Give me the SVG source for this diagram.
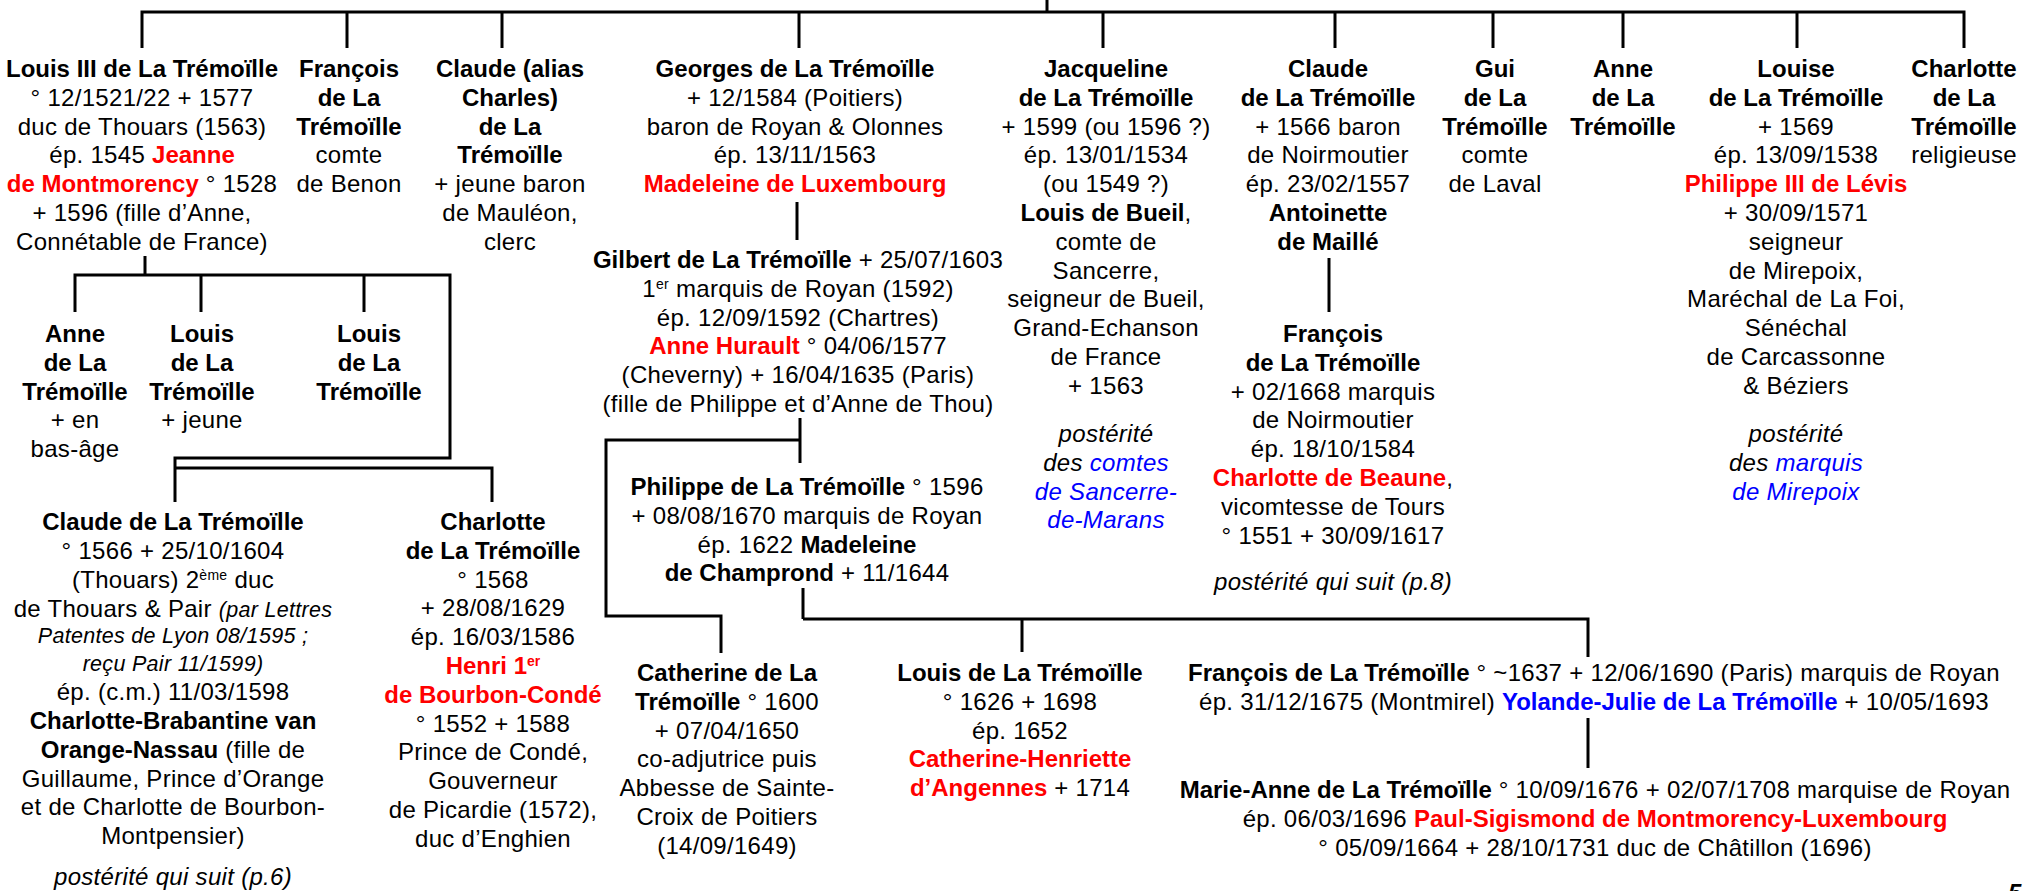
<svg xmlns="http://www.w3.org/2000/svg" width="2024" height="891" viewBox="0 0 2024 891">
<style>
text{font-family:"Liberation Sans",Arial,sans-serif;font-size:24px;text-anchor:middle;fill:#000;letter-spacing:0.3px}
.b{font-weight:bold;letter-spacing:0}
.r{fill:#f00}
.u{fill:#00f}
.i{font-style:italic}
.s{font-size:21.5px}
.sup{font-size:14px;baseline-shift:super}
.c{fill:none;stroke:#000;stroke-width:3}
</style>
<rect width="2024" height="891" fill="#fff"/>
<g id="connectors" class="c">
<path d="M1047 0V12M142 48V12H1964V48M347 12V48M502 12V48M799 12V48M1103 12V48M1335 12V48M1493 12V48M1623 12V48M1797 12V48"/>
<path d="M797 202V240"/>
<path d="M1329 258V312"/>
<path d="M145 256V275M75 312V275H450V458H175V502M201 275V312M364 275V312M175 468H492V502"/>
<path d="M800 418V463M800 440H606V616H721V653"/>
<path d="M803 588V619M803 619H1588V657M1022 619V652"/>
<path d="M1588 718V768"/>
</g>
<g id="louis3">
<text x="142" y="77" class="b">Louis III de La Trémoïlle</text>
<text x="142" y="105.8">° 12/1521/22 + 1577</text>
<text x="142" y="134.6">duc de Thouars (1563)</text>
<text x="142" y="163.4">ép. 1545 <tspan class="b r">Jeanne</tspan></text>
<text x="142" y="192.2"><tspan class="b r">de Montmorency</tspan> ° 1528</text>
<text x="142" y="221">+ 1596 (fille d’Anne,</text>
<text x="142" y="249.8">Connétable de France)</text>
</g>
<g id="francois-benon">
<text x="349" y="77" class="b">François</text>
<text x="349" y="105.8" class="b">de La</text>
<text x="349" y="134.6" class="b">Trémoïlle</text>
<text x="349" y="163.4">comte</text>
<text x="349" y="192.2">de Benon</text>
</g>
<g id="claude-charles">
<text x="510" y="77" class="b">Claude (alias</text>
<text x="510" y="105.8" class="b">Charles)</text>
<text x="510" y="134.6" class="b">de La</text>
<text x="510" y="163.4" class="b">Trémoïlle</text>
<text x="510" y="192.2">+ jeune baron</text>
<text x="510" y="221">de Mauléon,</text>
<text x="510" y="249.8">clerc</text>
</g>
<g id="georges">
<text x="795" y="77" class="b">Georges de La Trémoïlle</text>
<text x="795" y="105.8">+ 12/1584 (Poitiers)</text>
<text x="795" y="134.6">baron de Royan &amp; Olonnes</text>
<text x="795" y="163.4">ép. 13/11/1563</text>
<text x="795" y="192.2" class="b r">Madeleine de Luxembourg</text>
</g>
<g id="gilbert">
<text x="798" y="268"><tspan class="b">Gilbert de La Trémoïlle</tspan> + 25/07/1603</text>
<text x="798" y="296.8">1<tspan class="sup">er</tspan> marquis de Royan (1592)</text>
<text x="798" y="325.6">ép. 12/09/1592 (Chartres)</text>
<text x="798" y="354.4"><tspan class="b r">Anne Hurault</tspan> ° 04/06/1577</text>
<text x="798" y="383.2">(Cheverny) + 16/04/1635 (Paris)</text>
<text x="798" y="412">(fille de Philippe et d’Anne de Thou)</text>
</g>
<g id="philippe">
<text x="807" y="495"><tspan class="b">Philippe de La Trémoïlle</tspan> ° 1596</text>
<text x="807" y="523.8">+ 08/08/1670 marquis de Royan</text>
<text x="807" y="552.6">ép. 1622 <tspan class="b">Madeleine</tspan></text>
<text x="807" y="581.4"><tspan class="b">de Champrond</tspan> + 11/1644</text>
</g>
<g id="catherine">
<text x="727" y="681" class="b">Catherine de La</text>
<text x="727" y="709.8"><tspan class="b">Trémoïlle</tspan> ° 1600</text>
<text x="727" y="738.6">+ 07/04/1650</text>
<text x="727" y="767.4">co-adjutrice puis</text>
<text x="727" y="796.2">Abbesse de Sainte-</text>
<text x="727" y="825">Croix de Poitiers</text>
<text x="727" y="853.8">(14/09/1649)</text>
</g>
<g id="louis-1626">
<text x="1020" y="681" class="b">Louis de La Trémoïlle</text>
<text x="1020" y="709.8">° 1626 + 1698</text>
<text x="1020" y="738.6">ép. 1652</text>
<text x="1020" y="767.4" class="b r">Catherine-Henriette</text>
<text x="1020" y="796.2"><tspan class="b r">d’Angennes</tspan> + 1714</text>
</g>
<g id="francois-1637">
<text x="1594" y="681"><tspan class="b">François de La Trémoïlle</tspan> ° ~1637 + 12/06/1690 (Paris) marquis de Royan</text>
<text x="1594" y="710">ép. 31/12/1675 (Montmirel) <tspan class="b u">Yolande-Julie de La Trémoïlle</tspan> + 10/05/1693</text>
</g>
<g id="marie-anne">
<text x="1595" y="798"><tspan class="b">Marie-Anne de La Trémoïlle</tspan> ° 10/09/1676 + 02/07/1708 marquise de Royan</text>
<text x="1595" y="827">ép. 06/03/1696 <tspan class="b r">Paul-Sigismond de Montmorency-Luxembourg</tspan></text>
<text x="1595" y="856">° 05/09/1664 + 28/10/1731 duc de Châtillon (1696)</text>
</g>
<g id="jacqueline">
<text x="1106" y="77" class="b">Jacqueline</text>
<text x="1106" y="105.8" class="b">de La Trémoïlle</text>
<text x="1106" y="134.6">+ 1599 (ou 1596 ?)</text>
<text x="1106" y="163.4">ép. 13/01/1534</text>
<text x="1106" y="192.2">(ou 1549 ?)</text>
<text x="1106" y="221"><tspan class="b">Louis de Bueil</tspan>,</text>
<text x="1106" y="249.8">comte de</text>
<text x="1106" y="278.6">Sancerre,</text>
<text x="1106" y="307.4">seigneur de Bueil,</text>
<text x="1106" y="336.2">Grand-Echanson</text>
<text x="1106" y="365">de France</text>
<text x="1106" y="393.8">+ 1563</text>
<text x="1106" y="442" class="i">postérité</text>
<text x="1106" y="470.8" class="i">des <tspan class="u">comtes</tspan></text>
<text x="1106" y="499.6" class="i u">de Sancerre-</text>
<text x="1106" y="528.4" class="i u">de-Marans</text>
</g>
<g id="claude-noirmoutier">
<text x="1328" y="77" class="b">Claude</text>
<text x="1328" y="105.8" class="b">de La Trémoïlle</text>
<text x="1328" y="134.6">+ 1566 baron</text>
<text x="1328" y="163.4">de Noirmoutier</text>
<text x="1328" y="192.2">ép. 23/02/1557</text>
<text x="1328" y="221" class="b">Antoinette</text>
<text x="1328" y="249.8" class="b">de Maillé</text>
</g>
<g id="francois-noirmoutier">
<text x="1333" y="342" class="b">François</text>
<text x="1333" y="370.8" class="b">de La Trémoïlle</text>
<text x="1333" y="399.6">+ 02/1668 marquis</text>
<text x="1333" y="428.4">de Noirmoutier</text>
<text x="1333" y="457.2">ép. 18/10/1584</text>
<text x="1333" y="486"><tspan class="b r">Charlotte de Beaune</tspan>,</text>
<text x="1333" y="514.8">vicomtesse de Tours</text>
<text x="1333" y="543.6">° 1551 + 30/09/1617</text>
<text x="1333" y="590" class="i">postérité qui suit (p.8)</text>
</g>
<g id="gui">
<text x="1495" y="77" class="b">Gui</text>
<text x="1495" y="105.8" class="b">de La</text>
<text x="1495" y="134.6" class="b">Trémoïlle</text>
<text x="1495" y="163.4">comte</text>
<text x="1495" y="192.2">de Laval</text>
</g>
<g id="anne-1">
<text x="1623" y="77" class="b">Anne</text>
<text x="1623" y="105.8" class="b">de La</text>
<text x="1623" y="134.6" class="b">Trémoïlle</text>
</g>
<g id="louise">
<text x="1796" y="77" class="b">Louise</text>
<text x="1796" y="105.8" class="b">de La Trémoïlle</text>
<text x="1796" y="134.6">+ 1569</text>
<text x="1796" y="163.4">ép. 13/09/1538</text>
<text x="1796" y="192.2" class="b r">Philippe III de Lévis</text>
<text x="1796" y="221">+ 30/09/1571</text>
<text x="1796" y="249.8">seigneur</text>
<text x="1796" y="278.6">de Mirepoix,</text>
<text x="1796" y="307.4">Maréchal de La Foi,</text>
<text x="1796" y="336.2">Sénéchal</text>
<text x="1796" y="365">de Carcassonne</text>
<text x="1796" y="393.8">&amp; Béziers</text>
<text x="1796" y="442" class="i">postérité</text>
<text x="1796" y="470.8" class="i">des <tspan class="u">marquis</tspan></text>
<text x="1796" y="499.6" class="i u">de Mirepoix</text>
</g>
<g id="charlotte-religieuse">
<text x="1964" y="77" class="b">Charlotte</text>
<text x="1964" y="105.8" class="b">de La</text>
<text x="1964" y="134.6" class="b">Trémoïlle</text>
<text x="1964" y="163.4">religieuse</text>
</g>
<g id="anne-2">
<text x="75" y="342" class="b">Anne</text>
<text x="75" y="370.8" class="b">de La</text>
<text x="75" y="399.6" class="b">Trémoïlle</text>
<text x="75" y="428.4">+ en</text>
<text x="75" y="457.2">bas-âge</text>
</g>
<g id="louis-2a">
<text x="202" y="342" class="b">Louis</text>
<text x="202" y="370.8" class="b">de La</text>
<text x="202" y="399.6" class="b">Trémoïlle</text>
<text x="202" y="428.4">+ jeune</text>
</g>
<g id="louis-2b">
<text x="369" y="342" class="b">Louis</text>
<text x="369" y="370.8" class="b">de La</text>
<text x="369" y="399.6" class="b">Trémoïlle</text>
</g>
<g id="claude-1566">
<text x="173" y="530" class="b">Claude de La Trémoïlle</text>
<text x="173" y="558.8">° 1566 + 25/10/1604</text>
<text x="173" y="587.6">(Thouars) 2<tspan class="sup">ème</tspan> duc</text>
<text x="173" y="617">de Thouars &amp; Pair <tspan class="i s">(par Lettres</tspan></text>
<text x="173" y="643" class="i s">Patentes  de Lyon 08/1595 ;</text>
<text x="173" y="671" class="i s">reçu Pair 11/1599)</text>
<text x="173" y="700">ép. (c.m.) 11/03/1598</text>
<text x="173" y="729" class="b">Charlotte-Brabantine van</text>
<text x="173" y="758"><tspan class="b">Orange-Nassau</tspan> (fille de</text>
<text x="173" y="787">Guillaume, Prince d’Orange</text>
<text x="173" y="815">et de Charlotte de Bourbon-</text>
<text x="173" y="844">Montpensier)</text>
<text x="173" y="885" class="i">postérité qui suit (p.6)</text>
</g>
<g id="charlotte-1568">
<text x="493" y="530" class="b">Charlotte</text>
<text x="493" y="558.8" class="b">de La Trémoïlle</text>
<text x="493" y="587.6">° 1568</text>
<text x="493" y="616.4">+ 28/08/1629</text>
<text x="493" y="645.2">ép. 16/03/1586</text>
<text x="493" y="674" class="b r">Henri 1<tspan class="sup">er</tspan></text>
<text x="493" y="702.8" class="b r">de Bourbon-Condé</text>
<text x="493" y="731.6">° 1552 + 1588</text>
<text x="493" y="760.4">Prince de Condé,</text>
<text x="493" y="789.2">Gouverneur</text>
<text x="493" y="818">de Picardie (1572),</text>
<text x="493" y="846.8">duc d’Enghien</text>
</g>
<text x="2008" y="901" class="b i" style="text-anchor:start">5</text>
</svg>
